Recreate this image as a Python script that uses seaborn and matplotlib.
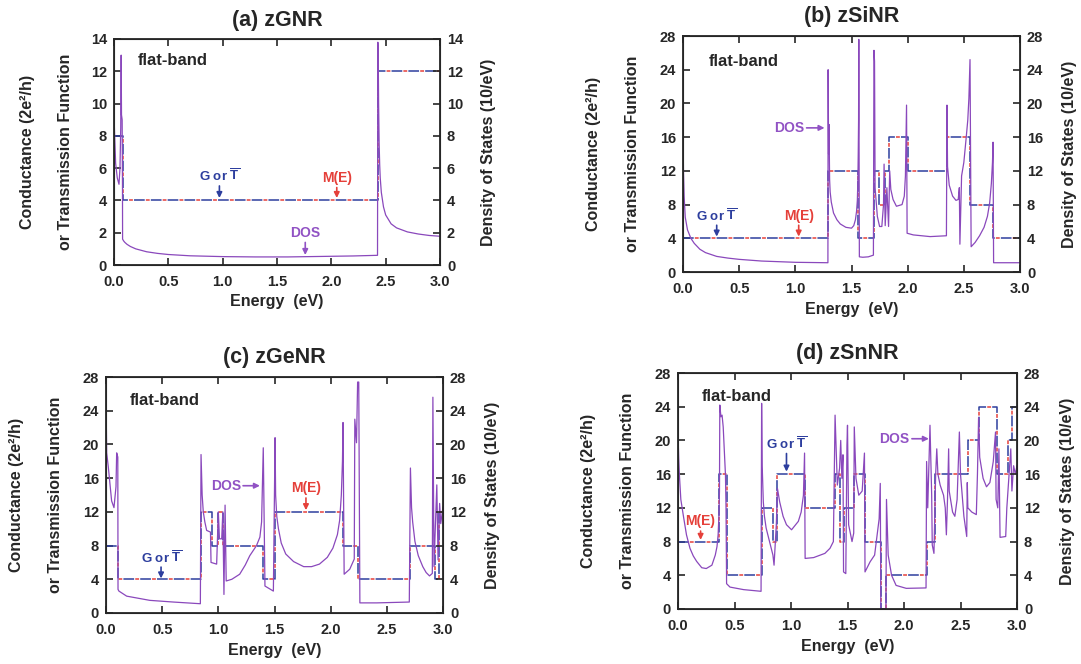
import numpy as np
import pandas as pd
import matplotlib
matplotlib.use("Agg")
import matplotlib.pyplot as plt
import seaborn as sns

sns.set_style("ticks")
plt.rcParams["font.family"] = ["Liberation Sans", "DejaVu Sans"]
plt.rcParams["font.weight"] = "bold"
plt.rcParams["mathtext.fontset"] = "custom"
plt.rcParams["mathtext.bf"] = "Liberation Sans:bold"
plt.rcParams["mathtext.rm"] = "Liberation Sans:bold"

# ---- (a) zGNR ----
E_dos_a = [0.0, 0.005, 0.015, 0.03, 0.046, 0.055, 0.062, 0.066, 0.069, 0.075, 0.078, 0.079,
           0.09, 0.1, 0.12, 0.15, 0.2, 0.3, 0.4, 0.5, 0.7, 1.0, 1.3, 1.6, 1.9, 2.2, 2.425,
           2.428, 2.432, 2.435, 2.44, 2.445, 2.45, 2.46, 2.48, 2.5, 2.55, 2.6, 2.7, 2.8, 2.9, 3.0]
dos_a = [9.3, 8.2, 6.3, 5.4, 5.0, 6.0, 8.5, 13.0, 9.3, 9.0, 5.0, 1.6,
         1.48, 1.4, 1.28, 1.15, 1.0, 0.82, 0.72, 0.65, 0.57, 0.52, 0.5, 0.5, 0.53, 0.56, 0.6,
         13.8, 12.6, 10.0, 7.5, 6.2, 5.4, 4.5, 3.6, 3.1, 2.55, 2.3, 2.05, 1.92, 1.83, 1.78]
E_G_a = [0.0, 0.08, 2.43, 3.0]
G_a = [8, 4, 12]
M_a = [8, 4, 12]

# ---- (b) zSiNR ----
E_dos_b = [0.0, 0.004, 0.01, 0.02, 0.04, 0.07, 0.1, 0.15, 0.2, 0.3, 0.4, 0.5, 0.7, 1.0, 1.29,
           1.292, 1.296, 1.30, 1.305, 1.31, 1.32, 1.34, 1.37, 1.4, 1.45, 1.5, 1.52, 1.535,
           1.545, 1.552, 1.557, 1.56, 1.563, 1.565,
           1.57, 1.6, 1.65, 1.695, 1.70, 1.705, 1.71, 1.73, 1.75, 1.77, 1.785, 1.79, 1.80, 1.815,
           1.83, 1.84, 1.85, 1.87, 1.9, 1.95, 1.97, 1.98, 1.99, 1.995, 2.05, 2.2, 2.345, 2.35,
           2.355, 2.37, 2.4, 2.43, 2.45, 2.46, 2.465, 2.48, 2.5, 2.52, 2.535, 2.545, 2.555,
           2.565, 2.6, 2.64, 2.68, 2.71, 2.73, 2.745, 2.755, 2.76, 2.765, 3.0]
dos_b = [18.2, 12.0, 9.0, 6.5, 5.0, 4.0, 3.4, 2.7, 2.3, 1.85, 1.65, 1.5, 1.3, 1.15, 1.1,
         24.0, 14.0, 17.5, 11.0, 9.5, 8.3, 7.0, 6.2, 5.7, 5.3, 5.2, 5.5, 6.2,
         7.2, 8.5, 11.0, 14.0, 18.0, 27.6,
         1.8, 1.75, 1.8, 2.0, 26.3, 25.0, 10.0, 6.6, 5.4, 5.4, 8.0, 12.8, 5.5, 10.0,
         5.4, 12.0, 9.8, 8.6, 7.8, 8.0, 9.0, 11.4, 19.8, 4.6, 4.4, 4.2, 4.3, 19.8,
         12.5, 10.3, 9.0, 8.5, 8.6, 10.0, 3.3, 11.4, 13.0, 15.8, 18.0, 20.6, 25.2,
         3.0, 3.5, 4.3, 5.3, 6.6, 8.2, 10.5, 13.0, 15.4, 1.1, 1.1]
E_G_b = [0.0, 1.29, 1.56, 1.70, 1.745, 1.80, 1.835, 2.0, 2.35, 2.555, 2.76, 3.0]
G_b = [4, 12, 4, 12, 8, 12, 16, 12, 16, 8, 4]
M_b = [4, 12, 4, 12, 8, 12, 16, 12, 16, 8, 4]

# ---- (c) zGeNR ----
E_dos_c = [0.0, 0.006, 0.02, 0.05, 0.071, 0.089, 0.095, 0.105, 0.107, 0.115, 0.184, 0.39,
           0.6, 0.84, 0.846, 0.856, 0.866, 0.88, 0.896, 0.93, 0.935, 0.985, 1.0, 1.01, 1.03,
           1.04, 1.05, 1.06, 1.07, 1.12, 1.19, 1.24, 1.28, 1.34, 1.37, 1.385, 1.40, 1.415, 1.49,
           1.505, 1.51, 1.52, 1.535, 1.56, 1.6, 1.67, 1.76, 1.83, 1.9, 1.97, 2.02, 2.06, 2.08,
           2.095, 2.105, 2.11, 2.12, 2.17, 2.21, 2.215, 2.23, 2.24, 2.25,
           2.26, 2.41, 2.70, 2.71, 2.72, 2.73, 2.75, 2.78, 2.82, 2.85, 2.88, 2.905, 2.91, 2.92,
           2.93, 2.945, 2.956, 2.97, 2.98, 3.0]
dos_c = [25.6, 19.0, 17.4, 13.3, 12.5, 15.0, 19.0, 18.5, 2.8, 2.6, 2.0, 1.5,
         1.3, 1.1, 18.8, 14.0, 12.0, 10.8, 9.8, 9.6, 6.0, 5.8, 12.0, 8.8, 8.8,
         12.0, 2.2, 12.8, 3.8, 4.0, 4.6, 5.7, 6.8, 8.0, 9.0, 10.8, 19.6, 3.2, 2.6,
         20.8, 14.0, 11.5, 10.0, 8.3, 7.0, 6.1, 5.5, 5.5, 5.8, 6.6, 7.7, 9.3, 11.0,
         14.0, 18.0, 22.6, 4.6, 5.2, 6.4, 23.0, 20.2, 27.4, 27.4,
         1.2, 1.2, 1.3, 17.2, 12.5, 10.8, 8.5, 6.8, 5.5, 4.8, 4.4, 4.7, 25.6, 5.5,
         9.5, 15.2, 6.3, 13.0, 10.6, 12.6]
E_G_c = [0.0, 0.107, 0.846, 0.94, 1.0, 1.045, 1.40, 1.505, 2.11, 2.245, 2.705, 2.93, 2.965, 3.0]
G_c = [8, 4, 12, 8, 12, 8, 4, 12, 8, 4, 8, 4, 12]
M_c = [8, 4, 12, 8, 12, 8, 4, 12, 8, 4, 8, 4, 12]

# ---- (d) zSnNR ----
E_dos_d = [0.0, 0.006, 0.012, 0.025, 0.047, 0.075, 0.106, 0.135, 0.165, 0.21, 0.25, 0.30, 0.33,
           0.345, 0.355, 0.362, 0.367,
           0.37, 0.38, 0.39, 0.40, 0.42, 0.425, 0.43, 0.46, 0.58, 0.735, 0.74, 0.745, 0.755,
           0.765, 0.78, 0.81, 0.84, 0.85, 0.87, 0.88, 0.90, 0.93, 0.96, 1.005, 1.065, 1.09,
           1.11, 1.12, 1.125, 1.20,
           1.30, 1.345, 1.375, 1.39, 1.41, 1.43, 1.44, 1.45, 1.46, 1.465, 1.485, 1.495, 1.50,
           1.51, 1.54, 1.555, 1.56, 1.575, 1.60, 1.63, 1.65, 1.655, 1.70, 1.74, 1.78, 1.79,
           1.795, 1.84, 1.845, 1.86, 1.89, 1.93, 2.02, 2.195, 2.20, 2.21, 2.22, 2.23, 2.245,
           2.25, 2.265, 2.28, 2.29, 2.30, 2.32, 2.35, 2.365, 2.375, 2.385, 2.395, 2.40, 2.43,
           2.45, 2.47, 2.49, 2.50, 2.53, 2.555, 2.56, 2.565, 2.6, 2.64, 2.65, 2.66, 2.67, 2.70,
           2.73, 2.76, 2.79, 2.81, 2.815, 2.83, 2.84, 2.85, 2.9, 2.91, 2.93, 2.945, 2.955,
           2.97, 2.985, 3.0]
dos_d = [20.8, 18.0, 16.0, 13.0, 11.1, 8.8, 7.2, 6.3, 5.65, 4.9, 4.8, 5.2, 6.4,
         7.4, 8.8, 11.0, 14.0,
         24.2, 22.8, 23.0, 21.6, 15.9, 12.0, 3.0, 2.6, 2.3, 2.1, 24.4, 17.0, 12.7,
         11.0, 9.6, 8.0, 6.4, 5.2, 10.0, 14.3, 12.7, 11.0, 10.0, 9.4, 10.4, 11.5,
         13.5, 18.5, 6.0, 6.1,
         6.6, 7.2, 8.0, 23.0, 14.7, 16.7, 20.0, 15.5, 18.3, 4.4, 4.2, 19.4, 21.8,
         10.0, 8.0, 9.0, 21.6, 15.5, 13.5, 14.0, 18.5, 4.4, 5.6, 6.4, 10.7, 14.9,
         0.0, 0.0, 13.0, 6.4, 4.0, 2.8, 2.45, 2.5, 17.5, 12.0, 16.7, 21.8, 13.5,
         7.6, 6.6, 15.9, 19.0, 16.0, 14.7, 13.5, 12.0, 8.8, 13.0, 19.0, 14.0, 11.5,
         11.0, 13.0, 21.0, 16.0, 11.0, 8.6, 15.0, 12.0, 11.5, 11.2, 16.0, 22.7, 18.0, 15.5,
         14.5, 15.0, 17.5, 21.0, 13.0, 12.0, 19.0, 8.5, 8.6, 12.0, 16.0, 19.0, 14.0,
         17.0, 16.0, 17.0]
E_G_d = [0.0, 0.36, 0.43, 0.74, 0.84, 0.88, 1.12, 1.39, 1.43, 1.47, 1.56, 1.655, 1.795,
         1.845, 2.20, 2.27, 2.565, 2.665, 2.82, 2.92, 2.96, 3.0]
G_d = [8, 16, 4, 12, 8, 16, 12, 16, 8, 12, 16, 8, 0, 4, 8, 16, 20, 24, 16, 20, 24]
M_d = [8, 16, 4, 12, 8, 16, 12, 16, 8, 12, 16, 8, 0, 4, 8, 16, 20, 24, 16, 20, 24]

BLUE = "#2d3e9e"
RED = "#e5403a"
PURPLE = "#8a48bc"
PURPLE_TXT = "#9152c4"

W, H = 1081, 664
fig = plt.figure(figsize=(W / 100, H / 100), dpi=100)


def box(l, t, r, b):
    return [l / W, 1 - b / H, (r - l) / W, (b - t) / H]


def panel(rect, title, ymax, ystep, e_dos, dos, e_g, g, m):
    ax = fig.add_axes(box(*rect))
    # conductance / transmission and mode count: alternating blue / red dashes
    sns.lineplot(x=e_g, y=m + [m[-1]], ax=ax, drawstyle="steps-post", estimator=None,
                 sort=False, color=RED, lw=1.1, linestyle=(3.25, (2.5, 8.5)))
    sns.lineplot(x=e_g, y=g + [g[-1]], ax=ax, drawstyle="steps-post", estimator=None,
                 sort=False, color=BLUE, lw=1.1, linestyle=(0, (7, 4)))
    sns.lineplot(x=e_dos, y=dos, ax=ax, estimator=None, sort=False, color=PURPLE, lw=0.9)

    ax.set_xlim(0, 3)
    ax.set_ylim(0, ymax)
    ax.set_xticks(np.arange(0, 3.01, 0.5))
    ax.set_xticklabels(["%.1f" % v for v in np.arange(0, 3.01, 0.5)])
    ax.set_yticks(np.arange(0, ymax + 0.1, ystep))
    ax.tick_params(direction="in", top=True, length=5, width=1.2, labelsize=10.5)
    ax.tick_params(axis="x", pad=7)
    ax.tick_params(axis="y", pad=5)
    for s in ax.spines.values():
        s.set_linewidth(1.3)
    ax.set_xlabel("")
    ax.set_ylabel("")

    ax2 = ax.twinx()
    ax2.set_ylim(0, ymax)
    ax2.set_yticks(np.arange(0, ymax + 0.1, ystep))
    ax2.tick_params(direction="in", length=5, width=1.2, labelsize=10.5, pad=5)

    ax.text(0.5, 1.083, title, transform=ax.transAxes, ha="center", va="center",
            fontsize=15.5, fontweight="bold")
    ax.text(0.5, -0.16, "Energy  (eV)", transform=ax.transAxes, ha="center", va="center",
            fontsize=11.5, fontweight="bold")
    ax.text(-0.265, 0.5, "Conductance (2e²/h)", transform=ax.transAxes, rotation=90,
            ha="center", va="center", fontsize=11.5, fontweight="bold")
    ax.text(-0.15, 0.5, "or Transmission Function", transform=ax.transAxes, rotation=90,
            ha="center", va="center", fontsize=11.5, fontweight="bold")
    ax.text(1.148, 0.5, "Density of States (10/eV)", transform=ax.transAxes, rotation=90,
            ha="center", va="center", fontsize=11.5, fontweight="bold")
    return ax


def down_note(ax, txt, color, x, ty, tip, size=10):
    ax.text(x, ty, txt, color=color, ha="center", va="center", fontsize=size,
            fontweight="bold", zorder=6)
    ax.annotate("", xy=(x, tip), xytext=(x, ty), zorder=6,
                arrowprops=dict(arrowstyle="-|>", color=color, lw=1.2, mutation_scale=8,
                                shrinkA=7, shrinkB=0))


def right_note(ax, txt, color, x0, x1, y, size=10):
    ax.text(x0, y, txt, color=color, ha="right", va="center", fontsize=size,
            fontweight="bold", zorder=6)
    ax.annotate("", xy=(x1, y), xytext=(x0 + 0.02, y), zorder=6,
                arrowprops=dict(arrowstyle="-|>", color=color, lw=1.2, mutation_scale=8,
                                shrinkA=0, shrinkB=0))


GT = r"G or $\mathbf{\overline{T}}$"

ax_a = panel((114, 39, 440, 265), "(a) zGNR", 14, 2, E_dos_a, dos_a, E_G_a, G_a, M_a)
ax_a.text(0.22, 12.65, "flat-band", fontsize=12, fontweight="bold", va="center")
down_note(ax_a, GT, BLUE, 0.97, 5.5, 4.15, 9.5)
down_note(ax_a, "M(E)", RED, 2.05, 5.4, 4.15)
down_note(ax_a, "DOS", PURPLE_TXT, 1.76, 2.0, 0.62)

ax_b = panel((683, 36, 1020, 272), "(b) zSiNR", 28, 4, E_dos_b, dos_b, E_G_b, G_b, M_b)
ax_b.text(0.23, 25.0, "flat-band", fontsize=12, fontweight="bold", va="center")
down_note(ax_b, GT, BLUE, 0.3, 6.7, 4.2, 9.5)
down_note(ax_b, "M(E)", RED, 1.03, 6.7, 4.2)
right_note(ax_b, "DOS", PURPLE_TXT, 1.08, 1.26, 17.1)

ax_c = panel((106, 377, 443, 613), "(c) zGeNR", 28, 4, E_dos_c, dos_c, E_G_c, G_c, M_c)
ax_c.text(0.21, 25.2, "flat-band", fontsize=12, fontweight="bold", va="center")
down_note(ax_c, GT, BLUE, 0.49, 6.6, 4.1, 9.5)
down_note(ax_c, "M(E)", RED, 1.78, 14.8, 12.2)
right_note(ax_c, "DOS", PURPLE_TXT, 1.2, 1.37, 15.1)

ax_d = panel((678, 373, 1017, 609), "(d) zSnNR", 28, 4, E_dos_d, dos_d, E_G_d, G_d, M_d)
ax_d.text(0.21, 25.2, "flat-band", fontsize=12, fontweight="bold", va="center")
down_note(ax_d, "M(E)", RED, 0.2, 10.4, 8.2)
down_note(ax_d, GT, BLUE, 0.96, 19.6, 16.3, 9.5)
right_note(ax_d, "DOS", PURPLE_TXT, 2.05, 2.22, 20.2)

fig.savefig("out.png", dpi=100)
